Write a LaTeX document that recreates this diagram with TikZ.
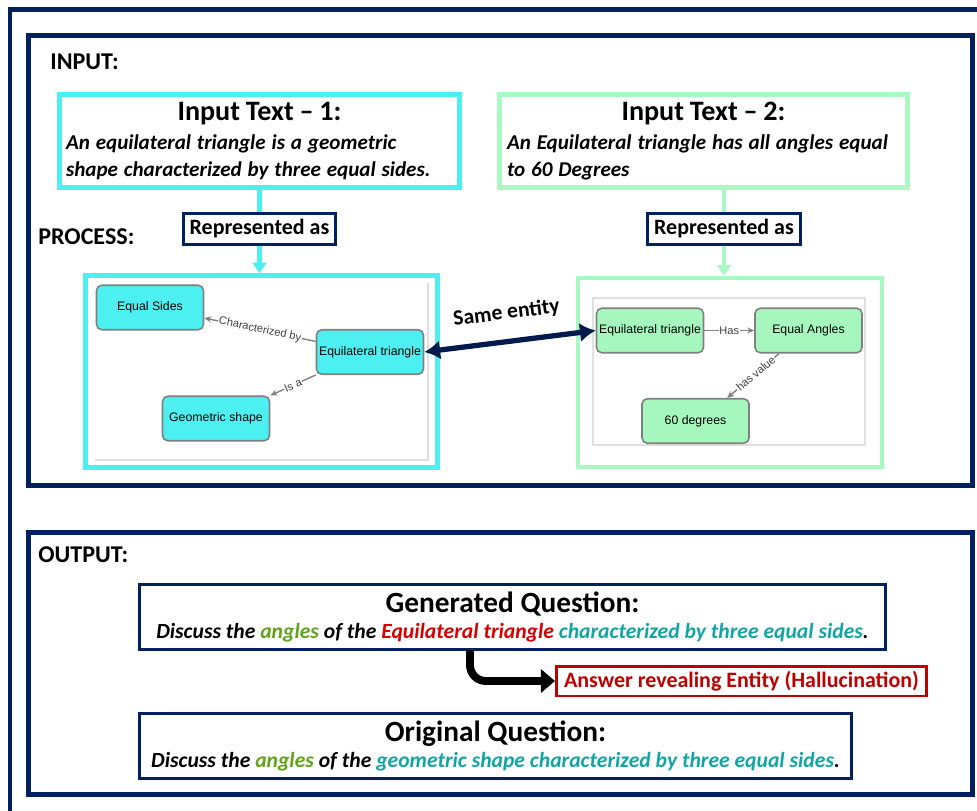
\documentclass[tikz,border=0pt]{standalone}
\usepackage{fontspec}
\setmainfont{Carlito}
\newfontfamily\graphfont{Liberation Sans}
\usetikzlibrary{arrows.meta}

\definecolor{navy}{HTML}{002060}
\definecolor{cyanC}{HTML}{4CF0F0}
\definecolor{mintC}{HTML}{A8F9C4}
\definecolor{cyanfill}{HTML}{4DF0F0}
\definecolor{mintfill}{HTML}{A6F7BD}
\definecolor{agreen}{HTML}{62A31C}
\definecolor{ered}{HTML}{D80000}
\definecolor{eteal}{HTML}{12A5A5}
\definecolor{ansred}{HTML}{C00000}

\newcommand{\headfont}{\fontsize{16}{19}\selectfont\bfseries}
\newcommand{\bodyfont}{\fontsize{12}{15.2}\selectfont\bfseries\itshape}

\begin{document}
\begin{tikzpicture}[x=0.02cm,y=-0.02cm,
    frame/.style={draw=navy,line width=2.6pt},
    tbox/.style={draw=#1,line width=2.8pt,inner sep=0pt,align=left,minimum height=1.86cm},
    rbox/.style={draw=navy,line width=1.7pt,minimum height=0.62cm,inner sep=0pt,
        font=\fontsize{12.5}{14}\selectfont\bfseries},
    gframe/.style={draw=#1,line width=2.8pt,inner sep=0pt},
    gnode/.style={draw=black!50,line width=0.9pt,rounded corners=3pt,fill=#1,
        minimum width=2.14cm,minimum height=0.89cm,inner sep=0pt,
        font=\graphfont\fontsize{7}{8}\selectfont},
    gedge/.style={draw=black!50,line width=0.8pt,-{Stealth[length=4pt,width=3.5pt]}},
    elab/.style={fill=white,inner sep=0.4pt,text=black!75,
        font=\graphfont\fontsize{6.3}{7}\selectfont},
    feed/.style={draw=#1,line width=2.3pt},
    qbox/.style={draw=navy,line width=1.7pt,minimum height=1.3cm,inner sep=0pt,align=center},
    sect/.style={anchor=west,inner sep=0pt,font=\fontsize{13.7}{15}\selectfont\bfseries}]
    \useasboundingbox (0,0) rectangle (977,811);

    % frames
    \draw[frame] (10,811) -- (10,9.5) -- (977,9.5);
    \draw[frame] (28.5,35.5) rectangle (972.5,485.5);
    \draw[frame] (28.5,532.5) rectangle (972.5,794.5);
    \node[sect] (inlabel) at (50,62) {INPUT:};
    \node[sect] (proclabel) at (38,237) {PROCESS:};
    \node[sect] (outlabel) at (38,555) {OUTPUT:};

    % input texts
    \node[tbox=cyanC,minimum width=8cm,text width=7.74cm] (in1) at (259.5,141)
        {{\centering\headfont Input Text -- 1:\par}\vspace{1.6pt}
         \bodyfont An equilateral triangle is a geometric\\ shape characterized by three equal sides.\par
         \vspace{-4pt}};
    \node[tbox=mintC,minimum width=8.16cm,text width=7.86cm] (in2) at (703.5,141)
        {{\centering\headfont Input Text -- 2:\par}\vspace{1.6pt}
         \bodyfont An Equilateral triangle has all angles equal\\ to 60 Degrees\par
         \vspace{-4pt}};
    \node[rbox,minimum width=3.04cm] (rep1) at (259.5,229) {Represented as};
    \node[rbox,minimum width=3.06cm] (rep2) at (724,229) {Represented as};

    % graph 1
    \node[gframe=cyanC,minimum width=7.04cm,minimum height=3.84cm] (g1) at (261.5,371.5) {};
    \draw[black!12,line width=0.6pt] (95,460) -- (428,460) -- (428,283);
    \node[gnode=cyanfill] (es) at (150,307.5) {Equal Sides};
    \node[gnode=cyanfill] (et1) at (370,352) {Equilateral triangle};
    \node[gnode=cyanfill] (gs) at (216,418.5) {Geometric shape};
    \draw[gedge] (et1.169) -- (es.-11) node[elab,midway,sloped] {Characterized by};
    \draw[gedge] (et1.south west) -- (gs.north east) node[elab,midway,sloped] {Is a};

    % graph 2
    \node[gframe=mintC,minimum width=6.08cm,minimum height=3.78cm] (g2) at (730,372.5) {};
    \draw[black!12,line width=0.6pt] (593,298) rectangle (865,445);
    \node[gnode=mintfill] (et2) at (650,330.5) {Equilateral triangle};
    \node[gnode=mintfill] (ea) at (808.5,330.5) {Equal Angles};
    \node[gnode=mintfill] (sixty) at (695.5,421) {60 degrees};
    \draw[gedge] (et2) -- (ea) node[elab,midway] {Has};
    \draw[gedge] (ea.218) -- (sixty.36) node[elab,pos=0.45,sloped] {has value};

    \draw[feed=cyanC] (in1) -- (rep1);
    \draw[feed=cyanC,-{Triangle[length=6pt,width=8pt]}] (rep1.south) -- (rep1.south |- g1.north);
    \draw[feed=mintC] (rep2.north |- in2.south) -- (rep2);
    \draw[feed=mintC,-{Triangle[length=6pt,width=8pt]}] (rep2.south) -- (rep2.south |- g2.north);

    \draw[draw=navy!80!black,line width=3pt,{Latex[length=9pt,width=11pt]}-{Latex[length=9pt,width=11pt]}]
        (et1.east) -- (et2.west)
        node[midway,above=6pt,sloped,font=\fontsize{12.3}{14}\selectfont\bfseries] {Same entity};

    % output
    \node[qbox,minimum width=14.92cm] (gen) at (512.5,617)
        {\fontsize{16.7}{19}\selectfont\bfseries Generated Question:\\[3pt]
         \fontsize{12.3}{14}\selectfont\bfseries\itshape Discuss the \textcolor{agreen}{angles} of the
         \textcolor{ered}{Equilateral triangle} \textcolor{eteal}{characterized by three equal sides}.};
    \node[draw=ansred,line width=1.7pt,minimum width=7.4cm,minimum height=0.6cm,inner sep=0pt,
        text=ansred,font=\fontsize{12.5}{14}\selectfont\bfseries] (ans) at (741.5,681)
        {Answer revealing Entity (Hallucination)};
    \coordinate (elbow) at (470,650);
    \draw[line width=4.5pt,rounded corners=9pt,-{Triangle[length=8pt,width=13pt]}] (elbow) |- (ans.west);
    \node[qbox,minimum width=14.24cm] (orig) at (495.5,746)
        {\fontsize{16.7}{19}\selectfont\bfseries Original Question:\\[3pt]
         \fontsize{12.3}{14}\selectfont\bfseries\itshape Discuss the \textcolor{agreen}{angles} of the
         \textcolor{eteal}{geometric shape characterized by three equal sides}.};
\end{tikzpicture}
\end{document}
